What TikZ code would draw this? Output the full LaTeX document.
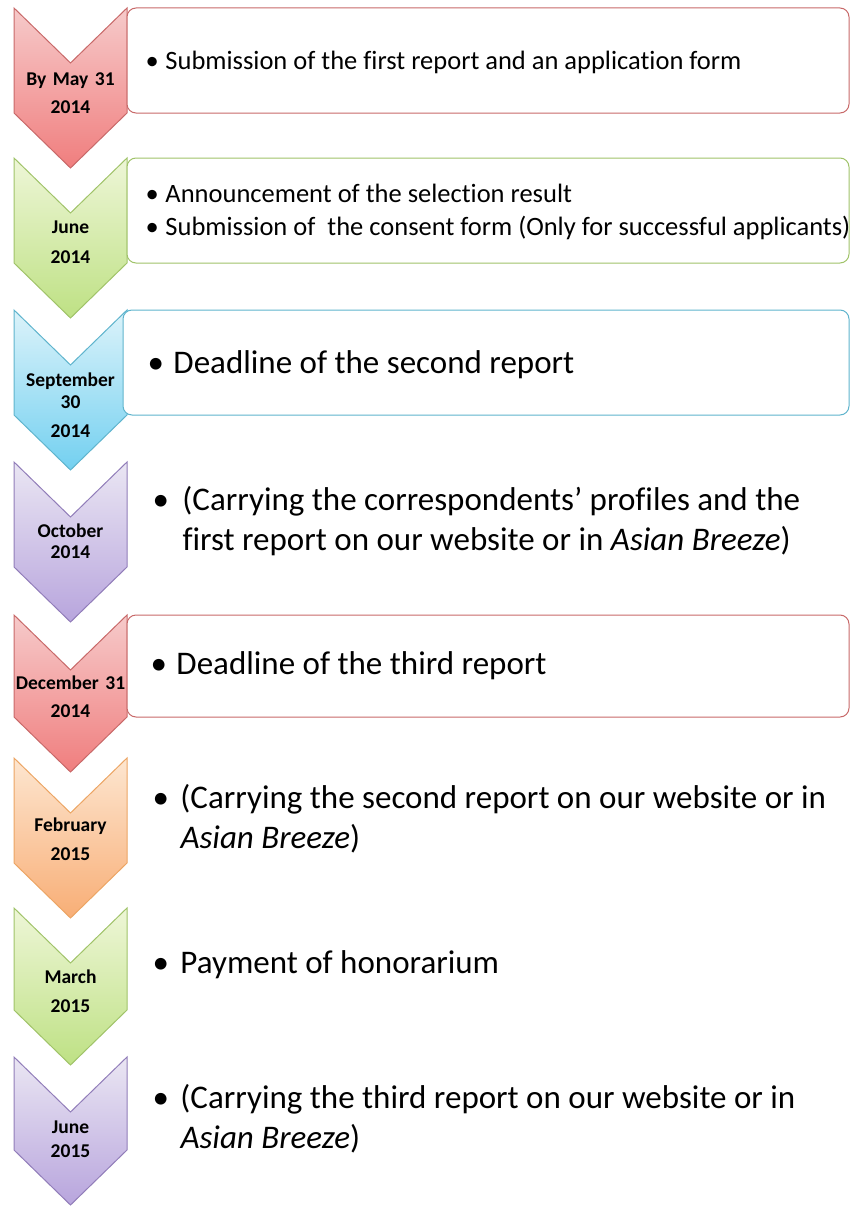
\documentclass[tikz,border=0pt]{standalone}
\usepackage{fontspec}
\setmainfont[Ligatures=NoCommon]{Carlito}
\usepackage{tikz}
\definecolor{redline}{RGB}{200,105,105}
\definecolor{redtop}{RGB}{246,202,202}
\definecolor{redbot}{RGB}{240,126,126}
\definecolor{greenline}{RGB}{160,195,105}
\definecolor{greentop}{RGB}{238,246,215}
\definecolor{greenbot}{RGB}{190,225,132}
\definecolor{blueline}{RGB}{95,180,205}
\definecolor{bluetop}{RGB}{220,243,250}
\definecolor{bluebot}{RGB}{115,208,240}
\definecolor{purpleline}{RGB}{145,125,185}
\definecolor{purpletop}{RGB}{234,230,243}
\definecolor{purplebot}{RGB}{184,165,221}
\definecolor{orangeline}{RGB}{236,165,100}
\definecolor{orangetop}{RGB}{253,230,208}
\definecolor{orangebot}{RGB}{248,174,118}
\newcommand{\tbul}[1]{\makebox[#1][l]{\textbullet}}

\begin{document}
\begin{tikzpicture}[x=1pt,y=1pt,line width=1pt]
            \tikzstyle{every node}+=[inner sep=0pt]
            \tikzstyle{redchev}=[draw=redline, top color=redtop, bottom color=redbot]
            \tikzstyle{greenchev}=[draw=greenline, top color=greentop, bottom color=greenbot]
            \tikzstyle{bluechev}=[draw=blueline, top color=bluetop, bottom color=bluebot]
            \tikzstyle{purplechev}=[draw=purpleline, top color=purpletop, bottom color=purplebot]
            \tikzstyle{orangechev}=[draw=orangeline, top color=orangetop, bottom color=orangebot]
            \tikzstyle{itembox}=[fill=white, rounded corners=9pt]
            \tikzstyle{datetext}=[font=\fontsize{19.5}{28}\selectfont\bfseries, text width=113pt, align=center, anchor=base]
            \tikzstyle{smalltext}=[font=\fontsize{26.5}{33}\selectfont, anchor=base west]
            \tikzstyle{bigtext}=[font=\fontsize{33}{40}\selectfont, anchor=base west]
            \useasboundingbox (0,0) rectangle (850,-1215);
            \draw [redchev] (14,-8) -- ++(56.5,-55) -- ++(56.5,55) -- ++(0,-105) -- ++(-56.5,-55) -- ++(-56.5,55) -- cycle;
            \draw [greenchev] (14,-158) -- ++(56.5,-55) -- ++(56.5,55) -- ++(0,-105) -- ++(-56.5,-55) -- ++(-56.5,55) -- cycle;
            \draw [bluechev] (14,-310) -- ++(56.5,-55) -- ++(56.5,55) -- ++(0,-105) -- ++(-56.5,-55) -- ++(-56.5,55) -- cycle;
            \draw [purplechev] (14,-462) -- ++(56.5,-55) -- ++(56.5,55) -- ++(0,-105) -- ++(-56.5,-55) -- ++(-56.5,55) -- cycle;
            \draw [redchev] (14,-615) -- ++(56.5,-55) -- ++(56.5,55) -- ++(0,-102) -- ++(-56.5,-55) -- ++(-56.5,55) -- cycle;
            \draw [orangechev] (14,-758) -- ++(56.5,-55) -- ++(56.5,55) -- ++(0,-105) -- ++(-56.5,-55) -- ++(-56.5,55) -- cycle;
            \draw [greenchev] (14,-908) -- ++(56.5,-55) -- ++(56.5,55) -- ++(0,-102) -- ++(-56.5,-55) -- ++(-56.5,55) -- cycle;
            \draw [purplechev] (14,-1057) -- ++(56.5,-55) -- ++(56.5,55) -- ++(0,-93) -- ++(-56.5,-55) -- ++(-56.5,55) -- cycle;
            \draw [itembox, draw=redline] (127,-8) rectangle (849,-113);
            \draw [itembox, draw=greenline] (127,-158) rectangle (849,-263);
            \draw [itembox, draw=blueline] (123,-310) rectangle (849,-415);
            \draw [itembox, draw=redline] (127,-615) rectangle (849,-717);
            \node [datetext] (d1) at (70.5,-85) {By May 31\\2014};
            \node [datetext] (d2) at (70.5,-233) {June\\[2pt]2014};
            \node [datetext] (d3) at (70.5,-386) {September\\[-6pt]30\\[1pt]2014};
            \node [datetext] (d4) at (70.5,-537) {October\\[-7pt]2014};
            \node [datetext] (d5) at (70.5,-689) {December 31\\2014};
            \node [datetext] (d6) at (70.5,-831) {February\\[1pt]2015};
            \node [datetext] (d7) at (70.5,-983) {March\\[1pt]2015};
            \node [datetext] (d8) at (70.5,-1133) {June\\[-4pt]2015};
            \node [smalltext] (t1) at (145,-70) {\begin{tabular}[t]{@{}l@{}l@{}}\tbul{20pt} & Submission of the first report and an application form\end{tabular}};
            \node [smalltext] (t2) at (145,-202) {\begin{tabular}[t]{@{}l@{}l@{}}\tbul{20pt} & Announcement of the selection result\\ \tbul{20pt} & Submission of~ the consent form (Only for successful applicants)\end{tabular}};
            \node [bigtext] (t3) at (147,-373) {\begin{tabular}[t]{@{}l@{}l@{}}\tbul{26pt} & Deadline of the second report\end{tabular}};
            \node [bigtext] (t4) at (152,-510) {\begin{tabular}[t]{@{}l@{}l@{}}\tbul{30pt} & (Carrying the correspondents’ profiles and the\\ & first report on our website or in \textit{Asian Breeze})\end{tabular}};
            \node [bigtext] (t5) at (150,-674) {\begin{tabular}[t]{@{}l@{}l@{}}\tbul{26pt} & Deadline of the third report\end{tabular}};
            \node [bigtext] (t6) at (152,-808) {\begin{tabular}[t]{@{}l@{}l@{}}\tbul{28pt} & (Carrying the second report on our website or in\\ & \textit{Asian Breeze})\end{tabular}};
            \node [bigtext] (t7) at (152,-973) {\begin{tabular}[t]{@{}l@{}l@{}}\tbul{28pt} & Payment of honorarium\end{tabular}};
            \node [bigtext] (t8) at (152,-1108) {\begin{tabular}[t]{@{}l@{}l@{}}\tbul{28pt} & (Carrying the third report on our website or in\\ & \textit{Asian Breeze})\end{tabular}};
\end{tikzpicture}
\end{document}
